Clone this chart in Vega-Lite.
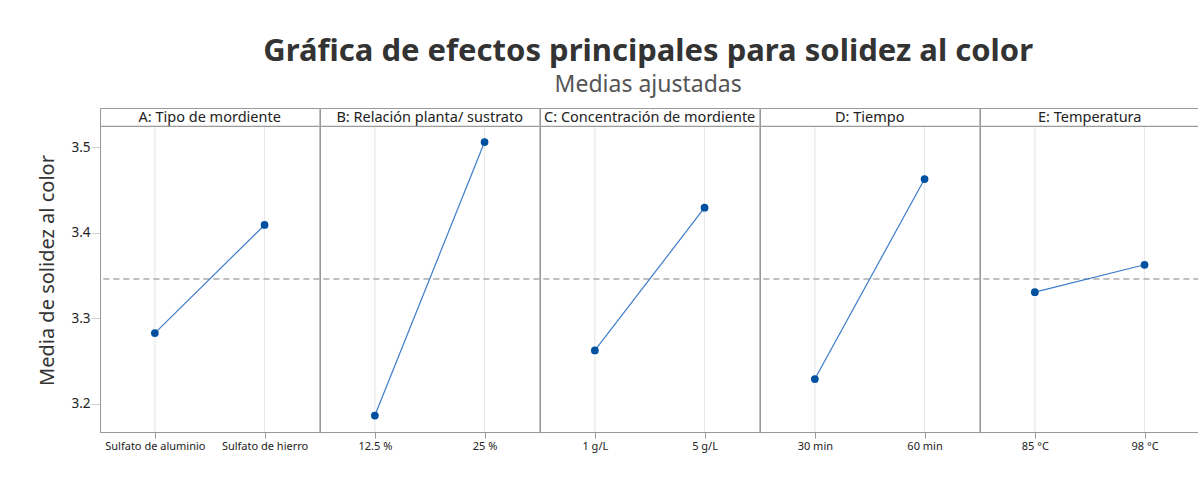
{
  "$schema": "https://vega.github.io/schema/vega-lite/v6.json",
  "padding": {"left": 37, "top": 35, "right": 0, "bottom": 5},
  "bounds": "flush",
  "title": {
    "text": "Gráfica de efectos principales para solidez al color",
    "subtitle": "Medias ajustadas",
    "fontSize": 31, "font": "Noto Sans", "fontWeight": "bold", "color": "#333333",
    "subtitleFontSize": 23, "subtitleColor": "#555555", "subtitleFont": "Noto Sans",
    "anchor": "middle", "offset": 10, "subtitlePadding": 6, "dx": 29
  },
  "data": {"values": [
    {"factor": "A: Tipo de mordiente", "level": "Sulfato de aluminio", "mean": 3.2827},
    {"factor": "A: Tipo de mordiente", "level": "Sulfato de hierro", "mean": 3.4092},
    {"factor": "B: Relación planta/ sustrato", "level": "12.5 %", "mean": 3.1862},
    {"factor": "B: Relación planta/ sustrato", "level": "25 %", "mean": 3.5062},
    {"factor": "C: Concentración de mordiente", "level": "1 g/L", "mean": 3.2624},
    {"factor": "C: Concentración de mordiente", "level": "5 g/L", "mean": 3.4294},
    {"factor": "D: Tiempo", "level": "30 min", "mean": 3.2289},
    {"factor": "D: Tiempo", "level": "60 min", "mean": 3.4630},
    {"factor": "E: Temperatura", "level": "85 °C", "mean": 3.3306},
    {"factor": "E: Temperatura", "level": "98 °C", "mean": 3.3626}
  ]},
  "facet": {
    "column": {
      "field": "factor", "type": "nominal", "sort": null, "title": null,
      "header": {"labelOrient": "top", "labelPadding": -17, "labelFontSize": 14.5, "labelColor": "#222222", "labelFont": "Noto Sans"}
    }
  },
  "spacing": 0,
  "resolve": {"scale": {"x": "independent"}},
  "spec": {
    "width": 219.4,
    "height": 324,
    "layer": [
      {
        "mark": {"type": "rule", "color": "#e6e6e6", "strokeWidth": 1},
        "encoding": {
          "x": {"field": "level", "type": "ordinal", "scale": {"type": "point", "padding": 0.5}},
          "y": {"datum": 3.1669, "type": "quantitative"},
          "y2": {"datum": 3.5246}
        }
      },
      {
        "mark": {"type": "rule", "color": "#999999", "strokeWidth": 1},
        "encoding": {"y": {"datum": 3.5246, "type": "quantitative"}}
      },
      {
        "mark": {"type": "rule", "color": "#aaaaaa", "strokeWidth": 1, "strokeDash": [6, 4]},
        "encoding": {"y": {"datum": 3.346, "type": "quantitative"}}
      },
      {
        "mark": {"type": "line", "color": "#3d7cc9", "strokeWidth": 1.2},
        "encoding": {
          "x": {"field": "level", "type": "ordinal", "scale": {"type": "point", "padding": 0.5},
                "axis": {"title": null, "labelAngle": 0, "labelAlign": "center", "labelFontSize": 11, "labelColor": "#222222", "tickColor": "#999999", "domainColor": "#999999", "grid": false, "tickSize": 6, "labelPadding": 8}},
          "y": {"field": "mean", "type": "quantitative",
                "scale": {"domain": [3.1669, 3.5461], "nice": false, "zero": false},
                "axis": {"title": "Media de solidez al color", "titleFontSize": 20, "titleFontWeight": "normal", "titleColor": "#333333", "titlePadding": 13,
                         "values": [3.2, 3.3, 3.4, 3.5], "format": ".1f", "labelFontSize": 13.5, "labelColor": "#222222",
                         "ticks": true, "tickSize": 9, "tickColor": "#d0d0d0", "labelPadding": 1, "domain": false, "gridColor": "#e8e8e8"}}
        }
      },
      {
        "mark": {"type": "point", "filled": true, "color": "#0050a0", "size": 60, "opacity": 1},
        "encoding": {
          "x": {"field": "level", "type": "ordinal"},
          "y": {"field": "mean", "type": "quantitative"}
        }
      }
    ]
  },
  "config": {
    "font": "Noto Sans",
    "view": {"stroke": "#999999", "strokeWidth": 1},
    "background": "white"
  }
}
